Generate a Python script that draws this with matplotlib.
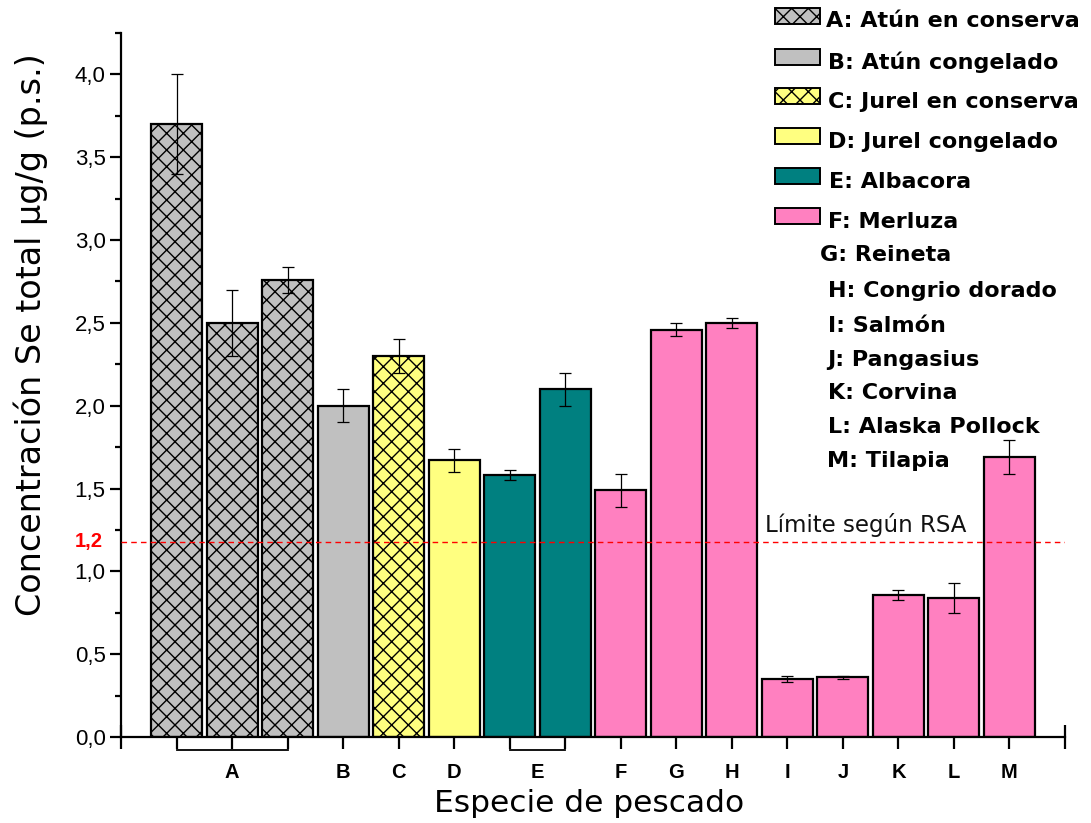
import matplotlib
matplotlib.use("Agg")
import matplotlib.pyplot as plt
from matplotlib.patches import Rectangle
from matplotlib.lines import Line2D
import matplotlib.transforms as mtransforms

# ---------------- data ----------------
bar_groups = ["A", "A", "A", "B", "C", "D", "E", "E", "F", "G", "H", "I", "J", "K", "L", "M"]
values = [3.70, 2.50, 2.76, 2.00, 2.30, 1.67, 1.58, 2.10, 1.49, 2.46, 2.50, 0.35, 0.36, 0.855, 0.84, 1.69]
errors = [0.30, 0.20, 0.08, 0.10, 0.10, 0.07, 0.03, 0.10, 0.10, 0.04, 0.03, 0.02, 0.01, 0.03, 0.09, 0.10]

group_labels = ["A", "B", "C", "D", "E", "F", "G", "H", "I", "J", "K", "L", "M"]
legend_labels = ["A: Atún en conserva", "B: Atún congelado", "C: Jurel en conserva",
                 "D: Jurel congelado", "E: Albacora", "F: Merluza", "G: Reineta",
                 "H: Congrio dorado", "I: Salmón", "J: Pangasius", "K: Corvina",
                 "L: Alaska Pollock", "M: Tilapia"]
limit_value = 1.18
limit_label = "1,2"
limit_text = "Límite según RSA"

# ---------------- styles ----------------
col = {"A": "#C0C0C0", "B": "#C0C0C0", "C": "#FFFF80", "D": "#FFFF80",
       "E": "#008080"}
pink = "#FF80C0"
hatched = {"A", "C"}

plt.rcParams["hatch.linewidth"] = 1.0
W, H = 1091, 823
fig = plt.figure(figsize=(W / 100, H / 100), dpi=100)
ax = fig.add_axes([121 / W, 1 - 737 / H, (1065 - 121) / W, (737 - 33) / H])

positions = list(range(1, len(values) + 1))
for x, g, v, e in zip(positions, bar_groups, values, errors):
    fc = col.get(g, pink)
    ax.bar(x, v, width=0.92, color=fc, edgecolor="black", linewidth=1.6,
           hatch="xx" if g in hatched else None, zorder=2)
ax.errorbar(positions, values, yerr=errors, fmt="none", ecolor="black",
            elinewidth=0.9, capsize=4.5, capthick=0.9, zorder=3)

ax.set_xlim(0, 17)
ax.set_ylim(0, 4.25)
for s in ["top", "right"]:
    ax.spines[s].set_visible(False)
for s in ["left", "bottom"]:
    ax.spines[s].set_linewidth(1.6)

ax.set_xticks([0] + positions + [17])
ax.set_xticklabels([])
ax.tick_params(axis="x", direction="inout", length=17, width=1.6)
ax.set_yticks([0, 0.5, 1.0, 1.5, 2.0, 2.5, 3.0, 3.5, 4.0])
ax.set_yticklabels([f"{t:.1f}".replace(".", ",") for t in ax.get_yticks()],
                   fontsize=16, family="Liberation Sans")
ax.set_yticks([i * 0.25 for i in range(18)], minor=True)
ax.tick_params(axis="y", which="major", direction="out", length=8, width=1.6, pad=3)
ax.tick_params(axis="y", which="minor", direction="out", length=4, width=1.6)

# group labels below axis
trans_lab = mtransforms.offset_copy(ax.get_xaxis_transform(), fig=fig, x=0, y=-35, units="dots")
trans_br = mtransforms.offset_copy(ax.get_xaxis_transform(), fig=fig, x=0, y=-13, units="dots")
centers = {}
for x, g in zip(positions, bar_groups):
    centers.setdefault(g, []).append(x)
for g in group_labels:
    xs = centers[g]
    xc = sum(xs) / len(xs)
    ax.text(xc, 0, g, transform=trans_lab, ha="center", va="center",
            fontsize=14.5, fontweight="bold", family="Liberation Sans")
    if len(xs) > 1:
        ax.add_line(Line2D([min(xs), max(xs)], [0, 0], transform=trans_br,
                           color="black", linewidth=1.3, clip_on=False))

# limit line
ax.axhline(limit_value, color="red", linestyle=(0, (4, 3)), linewidth=1.0, zorder=4)
trans_red = mtransforms.offset_copy(ax.get_yaxis_transform(), fig=fig, x=-18, y=0, units="dots")
ax.text(0, limit_value, limit_label, transform=trans_red, ha="right", va="center",
        color="red", fontsize=14.5, fontweight="bold", family="Liberation Sans")
ax.text(11.6, limit_value + 0.03, limit_text, ha="left", va="bottom",
        fontsize=16.5, family="DejaVu Sans", color="#111111")

# axis titles
fig.text(31 / W, 1 - 335 / H, "Concentración Se total µg/g (p.s.)", rotation=90,
         ha="center", va="center", fontsize=24, family="DejaVu Sans")
fig.text(589 / W, 1 - 803 / H, "Especie de pescado", ha="center", va="center",
         fontsize=22.5, family="DejaVu Sans")

# legend (manual, in figure pixel coordinates)
def fx(px):
    return px / W
def fy(py):
    return 1 - py / H

patch_fc = ["#C0C0C0", "#C0C0C0", "#FFFF80", "#FFFF80", "#008080", pink]
patch_hatch = ["xx", None, "xx", None, None, None]
rect_tops = [8, 49, 88, 128, 168, 208]
text_y = [21, 62, 102, 142, 182, 222, 255, 291, 326, 360, 393, 427, 461]
text_x = [826, 828, 828, 828, 829, 828, 820, 828, 828, 827, 828, 828, 827]
for i, lab in enumerate(legend_labels):
    if i < len(patch_fc):
        r = Rectangle((fx(775), fy(rect_tops[i] + 16)), 45 / W, 16 / H,
                      transform=fig.transFigure, facecolor=patch_fc[i],
                      edgecolor="black", linewidth=1.4, hatch=patch_hatch[i])
        fig.patches.append(r)
    fig.text(fx(text_x[i]), fy(text_y[i]), lab, ha="left", va="center",
             fontsize=16, fontweight="bold", family="DejaVu Sans")

fig.savefig("out.png", dpi=100)
